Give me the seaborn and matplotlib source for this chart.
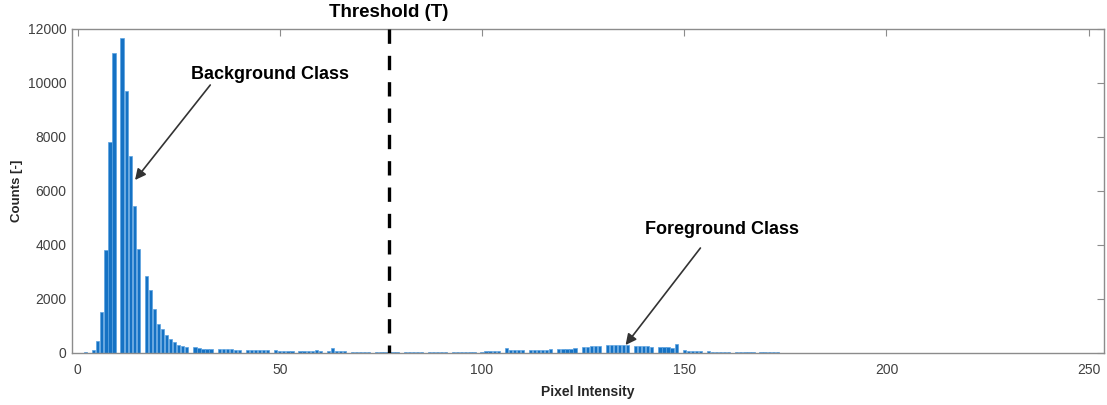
import numpy as np
import pandas as pd
import matplotlib
matplotlib.use("Agg")
import matplotlib.pyplot as plt
import matplotlib.transforms as mtransforms
import seaborn as sns

# Histogram counts per grey level (0..255); empty levels are zero.
intensity = list(range(256))
counts = [0] * 256

background_levels = [2, 4, 5, 6, 7, 8, 9, 11, 12, 13, 14, 15,
                     17, 18, 19, 20, 21, 22, 23, 24, 25, 26, 27]
background_counts = [40, 120, 460, 1520, 3810, 7800, 11100, 11650, 9700, 7300, 5450, 3850,
                     2850, 2320, 1620, 1060, 880, 650, 520, 400, 310, 260, 240]

tail_levels = [29, 30, 31, 32, 33, 35, 36, 37, 38, 39, 40, 42, 43, 44, 45, 46, 47,
               49, 50, 51, 52, 53, 55, 56, 57, 58, 59, 60, 62, 63, 64, 65, 66,
               68, 69, 70, 71, 72, 74, 75, 76, 77, 78, 79, 81, 82, 83, 84, 85,
               87, 88, 89, 90, 91, 93, 94, 95, 96, 97, 98, 100, 101, 102, 103, 104]
tail_counts = [210, 175, 165, 160, 160, 140, 135, 130, 130, 125, 125, 115, 110, 110, 105, 105, 100,
               95, 90, 90, 85, 85, 80, 75, 75, 70, 105, 70, 65, 185, 70, 60, 60,
               55, 55, 55, 50, 50, 50, 50, 45, 45, 45, 45, 45, 45, 40, 40, 40,
               40, 40, 45, 45, 45, 45, 50, 50, 50, 55, 55, 55, 60, 60, 65, 65]

foreground_levels = [106, 107, 108, 109, 110, 112, 113, 114, 115, 116, 117,
                     119, 120, 121, 122, 123, 125, 126, 127, 128, 129,
                     131, 132, 133, 134, 135, 136, 138, 139, 140, 141, 142,
                     144, 145, 146, 147, 148, 150, 151, 152, 153, 154,
                     156, 157, 158, 159, 160, 161, 163, 164, 165, 166, 167,
                     169, 170, 171, 172, 173, 175, 176, 177, 178, 179,
                     181, 182, 183, 184, 185]
foreground_counts = [170, 95, 95, 100, 100, 110, 115, 120, 120, 125, 130,
                     140, 145, 150, 160, 175, 230, 240, 250, 260, 260,
                     290, 300, 310, 310, 300, 290, 270, 260, 255, 245, 235,
                     230, 220, 205, 200, 320, 95, 90, 90, 85, 80,
                     60, 55, 55, 50, 50, 45, 35, 35, 30, 30, 30,
                     25, 25, 20, 20, 20, 15, 12, 10, 10, 8,
                     6, 5, 4, 3, 2]

for lv, c in zip(background_levels + tail_levels + foreground_levels,
                 background_counts + tail_counts + foreground_counts):
    counts[lv] = c

threshold = 77

df = pd.DataFrame({"Pixel Intensity": intensity, "Counts": counts})

sns.set_style("white")
plt.rcParams["font.family"] = ["Liberation Sans", "DejaVu Sans"]

fig = plt.figure(figsize=(11.07, 4.05), dpi=100)
ax = fig.add_axes([0.065, 0.1284, 0.9323, 0.80])

sns.barplot(data=df, x="Pixel Intensity", y="Counts", native_scale=True,
            width=0.8, color="#1572c4", saturation=1, edgecolor="#5aa2e0",
            linewidth=0.5, ax=ax)

# Threshold marker
ax.plot([threshold, threshold], [12000, 0], color="black", lw=2.4,
        linestyle=(0, (4.3, 3.6)), zorder=5)
trans = mtransforms.blended_transform_factory(ax.transData, ax.transAxes)
ax.text(threshold, 1.052, "Threshold (T)", transform=trans, ha="center",
        va="center", fontsize=13.5, fontweight="bold", color="black")

# Class annotations
arrow_kw = dict(arrowstyle="-|>", color="#333333", lw=1.2, mutation_scale=16,
                shrinkA=0, shrinkB=0)
ax.text(47.5, 10333, "Background Class", ha="center", va="center",
        fontsize=13, fontweight="bold", color="black")
ax.annotate("", xy=(14.2, 6407), xytext=(32.8, 9926), arrowprops=arrow_kw)
ax.text(159.4, 4556, "Foreground Class", ha="center", va="center",
        fontsize=13, fontweight="bold", color="black")
ax.annotate("", xy=(135.5, 296), xytext=(154, 3889), arrowprops=arrow_kw)

ax.set_xlim(-1.4, 253.8)
ax.set_ylim(0, 12000)
ax.set_xticks([0, 50, 100, 150, 200, 250])
ax.set_xticklabels(["0", "50", "100", "150", "200", "250"])
ax.set_yticks(np.arange(0, 12001, 2000))
ax.set_yticklabels([str(v) for v in range(0, 12001, 2000)])

ax.set_xlabel("Pixel Intensity", fontsize=10, fontweight="bold", color="#262626", labelpad=6)
ax.set_ylabel("Counts [-]", fontsize=9.5, fontweight="bold", color="#262626", labelpad=3)

for side in ["left", "right", "top", "bottom"]:
    ax.spines[side].set_visible(True)
    ax.spines[side].set_color("#8c8c8c")
    ax.spines[side].set_linewidth(1.0)

ax.tick_params(axis="both", which="major", direction="in", length=5, width=0.8,
               color="#8c8c8c", labelcolor="#404040", labelsize=10,
               top=True, right=True)
ax.tick_params(axis="x", pad=7)
ax.tick_params(axis="y", pad=4)

fig.savefig("out.png", dpi=100)
